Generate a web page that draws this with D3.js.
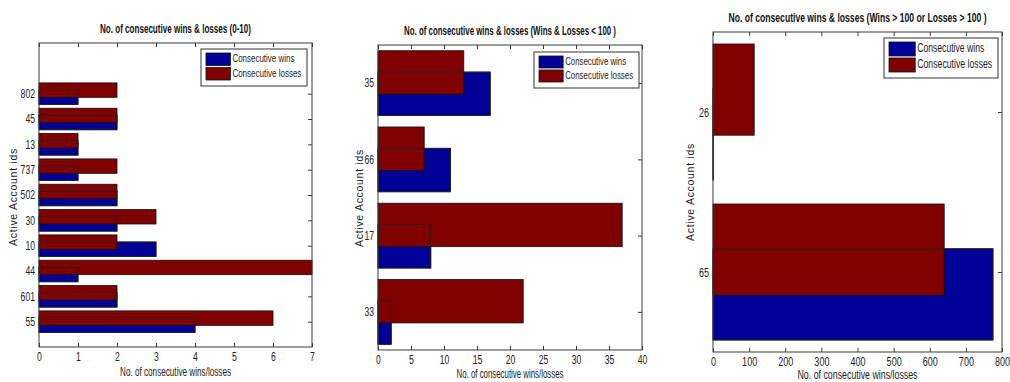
<!DOCTYPE html>
<html>
<head>
<meta charset="utf-8">
<script src="https://cdn.jsdelivr.net/npm/d3@7/dist/d3.min.js"></script>
<style>
  html, body { margin: 0; padding: 0; background: #fff; }
  svg { display: block; }
  .narrow { font-family: "Liberation Sans", Arial, sans-serif; }
</style>
</head>
<body>
<svg id="chart" width="1010" height="382"></svg>
<script>
// Account ids, listed bottom to top
const ids1 = ["55", "601", "44", "10", "30", "502", "737", "13", "45", "802"];
const wins1 = [4, 2, 1, 3, 2, 2, 1, 1, 2, 1];
const losses1 = [6, 2, 7, 2, 3, 2, 2, 1, 2, 2];
const ticks1 = [0, 1, 2, 3, 4, 5, 6, 7];

const ids2 = ["33", "17", "66", "35"];
const wins2 = [2, 8, 11, 17];
const losses2 = [22, 37, 7, 13];
const ticks2 = [0, 5, 10, 15, 20, 25, 30, 35, 40];

const ids3 = ["65", "26"];
const wins3 = [775, 1];
const losses3 = [640, 114];
const ticks3 = [0, 100, 200, 300, 400, 500, 600, 700, 800];

const titles = [
  "No. of consecutive wins & losses (0-10)",
  "No. of consecutive wins & losses (Wins & Losses < 100 )",
  "No. of consecutive wins & losses (Wins > 100 or Losses > 100 )"
];
const xTitle = "No. of consecutive wins/losses";
const yTitle = "Active Account ids";
const seriesNames = ["Consecutive wins", "Consecutive losses"];

const WIN_COLOR = "#000096";
const LOSS_COLOR = "#800000";
const AXIS_COLOR = "#3a3a3a";
const CONDENSE = 0.72;   // horizontal squeeze for the condensed labels

// Panel geometry
const panels = [
  { ids: ids1, wins: wins1, losses: losses1, ticks: ticks1, xMax: 7, yDomain: [0, 12],
    left: 39, right: 312, top: 43, bottom: 347, titleY: 30, titleW: 151,
    yLabelX: 14, yLabelY: 197, xLabelY: 373, xLabelW: 111, fs: 12,
    legend: { x: 201, y: 49, w: 106, h: 37, fs: 11, tw: [62, 69] } },
  { ids: ids2, wins: wins2, losses: losses2, ticks: ticks2, xMax: 40, yDomain: [0.5, 4.5],
    left: 378, right: 642, top: 45, bottom: 350, titleY: 32, titleW: 212,
    yLabelX: 360, yLabelY: 198, xLabelY: 375, xLabelW: 107, fs: 12,
    legend: { x: 534, y: 52, w: 105, h: 36, fs: 11, tw: [61, 68] } },
  { ids: ids3, wins: wins3, losses: losses3, ticks: ticks3, xMax: 800, yDomain: [0.5, 2.5],
    left: 713, right: 1002, top: 32, bottom: 352, titleY: 19, titleW: 258,
    yLabelX: 691, yLabelY: 192, xLabelY: 376, xLabelW: 120, fs: 12.5,
    legend: { x: 884, y: 38, w: 114, h: 40, fs: 12, tw: [67, 75] } }
];

const BAR_OFFSET = 0.14;  // vertical shift of each series from the category centre
const BAR_HEIGHT = 0.57;  // bar thickness in category units

const svg = d3.select("#chart");
svg.append("rect").attr("width", 1010).attr("height", 382).attr("fill", "#fff");

// Squeeze a selection of texts horizontally to a narrow look
function condense(sel, factor) {
  sel.each(function () {
    const len = this.getComputedTextLength();
    if (len > 0) {
      d3.select(this).attr("textLength", len * factor).attr("lengthAdjust", "spacingAndGlyphs");
    }
  });
}

panels.forEach((p, pi) => {
  const x = d3.scaleLinear().domain([0, p.xMax]).range([p.left, p.right]);
  const y = d3.scaleLinear().domain(p.yDomain).range([p.bottom, p.top]);
  const g = svg.append("g");
  const cats = p.ids.map((id, i) => ({ id, pos: i + 1, win: p.wins[i], loss: p.losses[i] }));

  // Inward ticks on all four sides
  const tickStyle = sel => {
    sel.select(".domain").remove();
    sel.selectAll(".tick line").attr("stroke", AXIS_COLOR);
  };
  const labelStyle = sel => sel.selectAll("text")
    .attr("class", "narrow")
    .attr("font-size", p.fs).attr("fill", "#222")
    .call(condense, CONDENSE);

  const bottomAxis = g.append("g").attr("transform", `translate(0,${p.bottom})`)
    .call(d3.axisBottom(x).tickValues(p.ticks).tickSize(-4).tickPadding(5).tickFormat(d3.format("d")));
  bottomAxis.attr("font-family", null).call(tickStyle).call(labelStyle);
  g.append("g").attr("transform", `translate(0,${p.top})`)
    .call(d3.axisTop(x).tickValues(p.ticks).tickSize(-4).tickFormat(""))
    .call(tickStyle);
  const leftAxis = g.append("g").attr("transform", `translate(${p.left},0)`)
    .call(d3.axisLeft(y).tickValues(cats.map(c => c.pos)).tickSize(-4).tickPadding(4)
      .tickFormat((d, i) => p.ids[i]));
  leftAxis.attr("font-family", null).call(tickStyle).call(labelStyle);
  g.append("g").attr("transform", `translate(${p.right},0)`)
    .call(d3.axisRight(y).tickValues(cats.map(c => c.pos)).tickSize(-4).tickFormat(""))
    .call(tickStyle);

  // Wins bars (lower), losses bars (upper) overlapping in the middle
  const winY = c => y(c.pos - BAR_OFFSET + BAR_HEIGHT / 2);
  const lossY = c => y(c.pos + BAR_OFFSET + BAR_HEIGHT / 2);
  const barH = Math.abs(y(p.yDomain[0]) - y(p.yDomain[0] + BAR_HEIGHT));

  g.append("g").selectAll("rect").data(cats).join("rect")
    .attr("x", x(0)).attr("y", winY)
    .attr("width", c => x(c.win) - x(0)).attr("height", barH)
    .attr("fill", WIN_COLOR).attr("stroke", "#111").attr("stroke-width", 0.8);
  g.append("g").selectAll("rect").data(cats).join("rect")
    .attr("x", x(0)).attr("y", lossY)
    .attr("width", c => x(c.loss) - x(0)).attr("height", barH)
    .attr("fill", LOSS_COLOR).attr("stroke", "#111").attr("stroke-width", 0.8);
  // Edges of the wins bars stay visible through the losses bars
  g.append("g").selectAll("rect").data(cats).join("rect")
    .attr("x", x(0)).attr("y", winY)
    .attr("width", c => x(c.win) - x(0)).attr("height", barH)
    .attr("fill", "none").attr("stroke", "#222").attr("stroke-width", 0.8);

  // Axes box
  g.append("rect")
    .attr("x", p.left).attr("y", p.top)
    .attr("width", p.right - p.left).attr("height", p.bottom - p.top)
    .attr("fill", "none").attr("stroke", AXIS_COLOR).attr("stroke-width", 1);

  // Titles
  g.append("text").attr("class", "narrow")
    .attr("x", (p.left + p.right) / 2).attr("y", p.titleY)
    .attr("text-anchor", "middle").attr("dominant-baseline", "middle")
    .attr("font-size", 12).attr("font-weight", "bold").attr("fill", "#111")
    .attr("textLength", p.titleW).attr("lengthAdjust", "spacingAndGlyphs")
    .text(titles[pi]);
  g.append("text").attr("class", "narrow")
    .attr("x", (p.left + p.right) / 2).attr("y", p.xLabelY)
    .attr("text-anchor", "middle").attr("dominant-baseline", "middle")
    .attr("font-size", p.fs).attr("fill", "#222")
    .attr("textLength", p.xLabelW).attr("lengthAdjust", "spacingAndGlyphs")
    .text(xTitle);
  g.append("text")
    .attr("transform", `translate(${p.yLabelX},${p.yLabelY}) rotate(-90)`)
    .attr("text-anchor", "middle").attr("dominant-baseline", "middle")
    .attr("font-family", "'Liberation Sans', Arial, sans-serif")
    .attr("font-size", 10.5).attr("letter-spacing", 0.7).attr("fill", "#222")
    .text(yTitle);

  // Legend
  const L = p.legend;
  const lg = g.append("g");
  lg.append("rect").attr("x", L.x).attr("y", L.y).attr("width", L.w).attr("height", L.h)
    .attr("fill", "#fff").attr("stroke", "#333").attr("stroke-width", 1);
  const rowH = (L.h - 8) / 2;
  [WIN_COLOR, LOSS_COLOR].forEach((col, k) => {
    const ry = L.y + 4 + k * rowH;
    lg.append("rect").attr("x", L.x + 5).attr("y", ry).attr("width", L.w * 0.23).attr("height", rowH - 2)
      .attr("fill", col).attr("stroke", "#111").attr("stroke-width", 0.8);
    lg.append("text").attr("class", "narrow")
      .attr("x", L.x + 7 + L.w * 0.23).attr("y", ry + (rowH - 2) / 2)
      .attr("dominant-baseline", "middle").attr("font-size", L.fs).attr("fill", "#222")
      .attr("textLength", L.tw[k]).attr("lengthAdjust", "spacingAndGlyphs")
      .text(seriesNames[k]);
  });
});
</script>
</body>
</html>
